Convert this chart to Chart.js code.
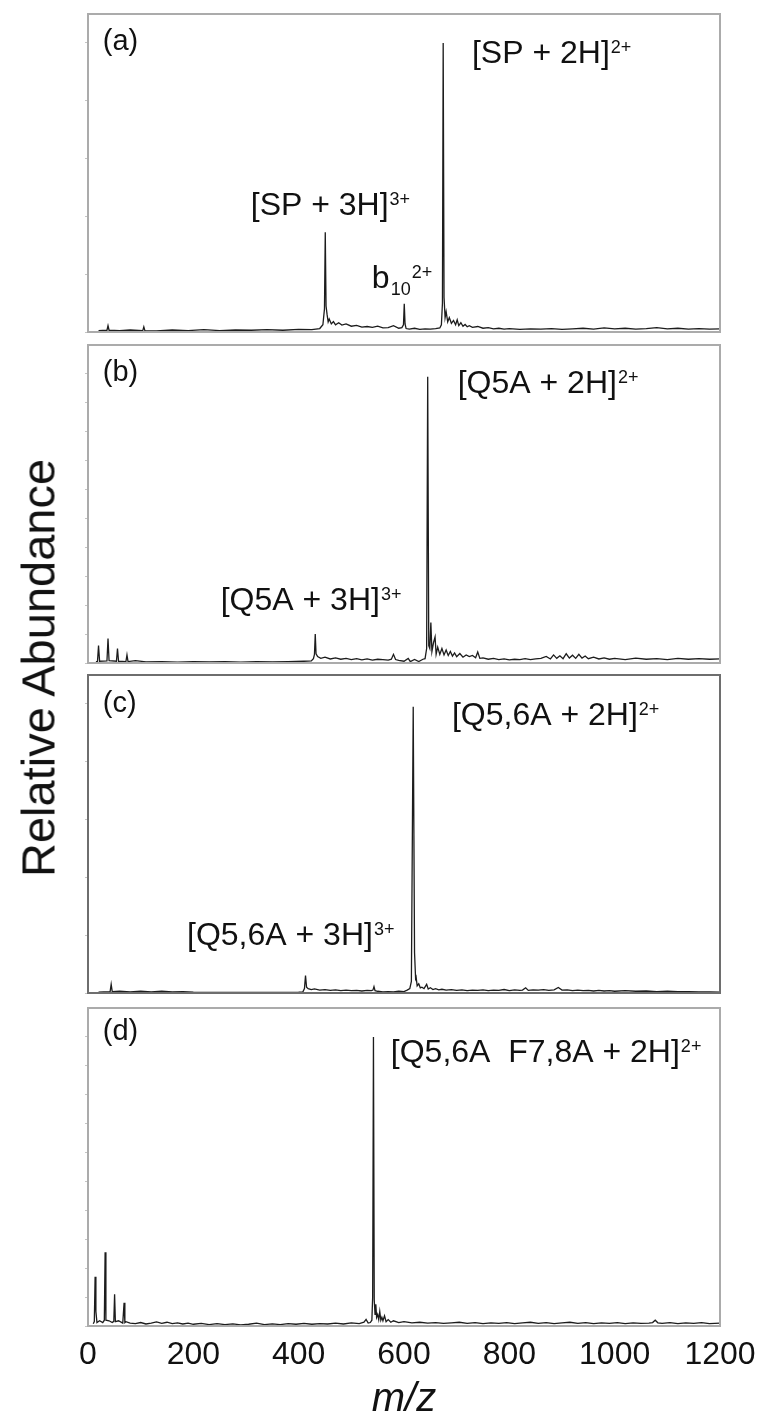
<!DOCTYPE html>
<html>
<head>
<meta charset="utf-8">
<title>ESI mass spectra</title>
<script src="https://cdn.jsdelivr.net/npm/chart.js@4"></script>
<style>
  html, body { margin: 0; padding: 0; background: #fff; }
  #page { position: relative; width: 762px; height: 1420px; overflow: hidden; }
  #page canvas { position: absolute; left: 0; }
  #ytitle {
    position: absolute; left: 38px; top: 668px;
    transform: translate(-50%, -50%) rotate(-90deg);
    font: 47px "Liberation Sans", Arial, sans-serif;
    white-space: nowrap; color: #111;
  }
</style>
</head>
<body>
<div id="page">
  <canvas id="panelA" width="762" height="322" style="top:12px"></canvas>
  <canvas id="panelB" width="762" height="322" style="top:343px"></canvas>
  <canvas id="panelC" width="762" height="322" style="top:673px"></canvas>
  <canvas id="panelD" width="762" height="414" style="top:1006px"></canvas>
  <div id="ytitle">Relative Abundance</div>
</div>
<script>
// axis ticks
const xTicks = [0, 200, 400, 600, 800, 1000, 1200];
const yTicks20 = [0, 20, 40, 60, 80, 100];
const yTicks10 = [0, 10, 20, 30, 40, 50, 60, 70, 80, 90, 100];

// (a) substance P
const mzA = [20, 36, 38, 40, 60, 80, 104, 106, 108, 130, 160, 190, 220, 250, 280, 310, 340, 370, 400, 425,
  440, 446, 449, 450.5, 452, 454, 456, 458, 462, 466, 470, 476, 482, 490, 500, 510, 520, 530, 540, 550,
  560, 570, 580, 590, 596, 599, 600.5, 602, 604, 610, 620, 630, 640, 650, 660, 668, 671, 673, 674.4, 676,
  678, 680, 683, 686, 690, 694, 698, 701, 704, 708, 712, 716, 720, 724, 730, 740, 750, 760, 770, 780,
  790, 800, 820, 840, 860, 880, 900, 920, 940, 960, 980, 1000, 1020, 1040, 1060, 1080, 1100, 1120, 1140, 1160,
  1180, 1200];
const intA = [0.5, 0.6, 2.2, 0.6, 0.5, 0.7, 0.5, 1.8, 0.5, 0.4, 0.7, 0.5, 0.8, 0.5, 0.7, 0.6, 0.8, 0.6, 0.9, 0.8,
  1.2, 2.5, 8, 34.5, 9, 6, 3.5, 4.5, 2.8, 3.6, 2.5, 3.2, 2.4, 2.8, 2.0, 2.3, 1.7, 1.9, 1.6, 2.0,
  1.4, 1.5, 2.2, 1.3, 1.5, 2.5, 9.8, 2.8, 1.2, 1.0, 1.3, 0.9, 1.1, 1.0, 1.2, 1.4, 2.5, 10, 100, 12,
  5, 7, 3.5, 5, 3, 4, 2.5, 4.2, 2.2, 3.2, 2.0, 2.6, 1.8, 2.2, 1.6, 1.9, 1.3, 1.5, 1.1, 1.3,
  1.0, 1.2, 0.9, 1.1, 1.0, 1.2, 0.9, 1.1, 1.3, 1.0, 1.4, 1.1, 1.3, 1.0, 1.2, 1.5, 1.1, 1.3, 1.0, 1.2,
  1.0, 1.1];

// (b) Q5A
const mzB = [15, 18, 20, 22, 36, 38, 40, 54, 56, 58, 72, 74, 76, 90, 110, 140, 170, 200, 230, 260,
  290, 320, 350, 380, 410, 424, 428, 430, 431.5, 433, 436, 442, 450, 460, 470, 480, 490, 500, 510, 520,
  530, 540, 550, 560, 570, 576, 580, 584, 590, 600, 608, 612, 620, 628, 636, 640, 643, 645, 647, 649,
  651, 653, 656, 659, 661, 664, 668, 672, 676, 680, 684, 688, 692, 696, 700, 706, 712, 718, 724, 730,
  736, 740, 744, 750, 760, 770, 780, 790, 800, 810, 820, 830, 840, 850, 860, 870, 878, 884, 890, 896,
  902, 908, 914, 920, 926, 932, 938, 944, 950, 960, 970, 980, 990, 1000, 1020, 1040, 1060, 1080, 1100, 1120,
  1140, 1160, 1180, 1200];
const intB = [0.5, 0.5, 6, 0.6, 0.7, 8.5, 0.8, 0.6, 5, 0.6, 0.5, 2.8, 0.5, 0.8, 0.4, 0.5, 0.3, 0.5, 0.4, 0.5,
  0.3, 0.5, 0.4, 0.5, 0.6, 0.7, 1.5, 3, 10, 3.2, 2.2, 1.6, 2.0, 1.4, 1.8, 1.3, 1.6, 1.2, 1.5, 1.1,
  1.4, 1.0, 1.3, 1.2, 1.0, 1.3, 3.0, 1.2, 0.9, 0.6, 1.6, 0.5, 1.2, 0.5, 1.3, 1.5, 5, 99, 6, 5,
  14, 4, 7, 9, 3, 5.5, 3, 5, 2.8, 4.5, 2.6, 4, 2.4, 3.5, 2.2, 3.3, 2.0, 2.8, 2.2, 2.6,
  1.8, 3.8, 1.6, 1.8, 1.3, 1.6, 1.2, 1.4, 1.1, 1.3, 1.2, 1.5, 1.2, 1.4, 1.6, 2.3, 1.4, 2.8, 1.6, 2.5,
  1.5, 3.2, 1.7, 2.7, 1.6, 3.0, 1.7, 2.4, 1.5, 2.0, 1.4, 1.8, 1.3, 1.6, 1.2, 1.7, 1.3, 1.5, 1.2, 1.6,
  1.3, 1.5, 1.3, 1.4];

// (c) Q5,6A
const mzC = [20, 30, 42, 44, 46, 60, 80, 100, 120, 140, 160, 180, 200, 250, 300, 350, 400, 408, 411, 413,
  415, 418, 424, 430, 440, 450, 460, 470, 480, 490, 500, 510, 520, 530, 538, 541, 543, 545, 550, 560,
  570, 580, 590, 600, 606, 611, 614, 617.5, 620, 622, 623, 625, 628, 631, 634, 638, 643, 646, 650, 655,
  660, 666, 672, 680, 690, 700, 710, 720, 730, 740, 750, 760, 770, 780, 790, 800, 810, 820, 825, 831,
  836, 845, 855, 865, 875, 885, 893, 900, 910, 920, 930, 940, 950, 960, 970, 980, 990, 1000, 1020, 1040,
  1060, 1080, 1100, 1120, 1140, 1160, 1180, 1200];
const intC = [0.3, 0.4, 0.5, 3.0, 0.5, 0.6, 0.4, 0.6, 0.4, 0.6, 0.4, 0.5, 0.3, 0.2, 0.2, 0.2, 0.3, 0.4, 1.5, 6,
  2, 1.5, 1.2, 1.4, 1.0, 1.2, 0.9, 1.1, 0.8, 1.0, 0.8, 0.9, 0.7, 0.9, 0.8, 1.0, 2.2, 0.8, 0.6, 0.4,
  0.5, 0.4, 0.6, 0.5, 1.0, 1.5, 4, 99, 14, 5, 5.5, 2.5, 3.2, 1.8, 2, 1.5, 3, 1.4, 1.8, 1.2,
  1.5, 1.1, 1.3, 1.0, 1.2, 0.9, 1.1, 0.8, 1.0, 0.9, 1.1, 0.8, 1.0, 0.9, 1.2, 0.8, 1.1, 0.9, 1.0, 1.8,
  0.9, 1.1, 1.0, 1.2, 0.9, 1.1, 1.9, 1.0, 1.1, 0.8, 1.0, 0.8, 0.9, 0.7, 0.9, 0.7, 0.8, 0.6, 0.8, 0.6,
  0.7, 0.5, 0.6, 0.5, 0.5, 0.4, 0.4, 0.3];

// (d) Q5,6A F7,8A
const mzD = [10, 12, 13.5, 15, 17, 22, 28, 31, 32.5, 34, 40, 46, 49, 50.5, 52, 58, 66, 68.5, 70, 72,
  80, 90, 100, 110, 120, 130, 140, 150, 160, 170, 180, 190, 200, 215, 230, 245, 260, 275, 290, 305,
  320, 335, 350, 365, 380, 395, 410, 425, 440, 455, 470, 485, 500, 515, 524, 528, 532, 536, 539, 540.5,
  542, 543.5, 545, 546.5, 548, 550, 552, 554, 556, 558, 560, 563, 566, 570, 575, 580, 590, 600, 615, 630,
  645, 660, 675, 690, 705, 720, 735, 750, 765, 780, 795, 810, 825, 840, 855, 870, 885, 900, 915, 930,
  945, 960, 975, 990, 1005, 1020, 1035, 1050, 1065, 1072, 1077, 1082, 1090, 1105, 1120, 1135, 1150, 1165, 1180, 1200];
const intD = [0.8, 1.5, 17, 5, 1.2, 1.8, 1.2, 2, 25.5, 2, 1.8, 1.2, 1.6, 11, 1.5, 1.8, 1.0, 8, 1.2, 1.5,
  1.0, 0.8, 1.2, 0.7, 1.0, 1.4, 0.9, 1.3, 0.8, 1.1, 0.7, 1.0, 0.6, 0.9, 0.5, 0.8, 0.5, 0.7, 0.4, 0.6,
  1.0, 0.5, 0.7, 0.5, 0.8, 0.6, 0.9, 0.6, 0.8, 0.7, 1.0, 0.7, 1.1, 0.8, 1.3, 2.3, 1.0, 1.2, 2, 10,
  100, 9, 4, 7.5, 3, 4, 2.2, 5, 2, 3, 1.8, 3.5, 1.5, 2.2, 1.3, 1.8, 1.2, 1.5, 1.1, 1.3,
  1.0, 1.2, 0.9, 1.1, 1.3, 0.9, 1.2, 0.8, 1.1, 0.9, 1.2, 0.8, 1.1, 1.3, 0.9, 1.2, 0.8, 1.1, 1.3, 0.9,
  1.2, 0.8, 1.1, 0.9, 1.2, 0.8, 1.1, 0.9, 1.0, 1.2, 2.0, 1.1, 0.9, 1.2, 0.8, 1.1, 0.9, 1.2, 0.8, 1.0];

const FONT = '"Liberation Sans", Arial, sans-serif';
Chart.defaults.font.family = FONT;
Chart.defaults.color = '#111';

// grey box round the plot area
const frame = {
  id: 'frame',
  afterDraw(chart, args, opts) {
    const { ctx, chartArea: a } = chart;
    ctx.save();
    ctx.strokeStyle = opts.color;
    ctx.lineWidth = opts.width;
    ctx.strokeRect(a.left, a.top, a.right - a.left, a.bottom - a.top);
    ctx.restore();
  }
};

// ion labels with super/subscripts, anchored in data units
const notes = {
  id: 'notes',
  afterDraw(chart, args, opts) {
    const { ctx, scales } = chart;
    ctx.save();
    ctx.fillStyle = '#111';
    ctx.textAlign = 'left';
    ctx.textBaseline = 'alphabetic';
    (opts.items || []).forEach(item => {
      let x = scales.x.getPixelForValue(item.x);
      const y = scales.y.getPixelForValue(item.y);
      item.parts.forEach(p => {
        const small = p.sup || p.sub;
        ctx.font = (small ? 18 : (item.size || 32)) + 'px ' + FONT;
        const dy = p.sup ? -10 : p.sub ? 7 : 0;
        if (small) x += 1;
        ctx.fillText(p.t, x, y + dy);
        x += ctx.measureText(p.t).width;
      });
    });
    ctx.restore();
  }
};

function spectrum(id, mz, inten, yTicks, cfg) {
  const last = !!cfg.axis;
  const points = mz.map((m, i) => ({ x: m, y: inten[i] }));
  return new Chart(document.getElementById(id), {
    type: 'line',
    data: {
      datasets: [{
        data: points,
        borderColor: '#1c1c1c',
        borderWidth: 1.3,
        pointRadius: 0,
        tension: 0,
        fill: false
      }]
    },
    options: {
      responsive: false,
      animation: false,
      devicePixelRatio: 1,
      layout: { padding: { left: 0, right: 42, top: 2, bottom: last ? 0 : 2 } },
      plugins: {
        legend: { display: false },
        tooltip: { enabled: false },
        frame: { color: cfg.frame, width: 2 },
        notes: { items: cfg.notes }
      },
      scales: {
        x: {
          type: 'linear', min: 0, max: 1200, display: last,
          grid: { display: false },
          border: { display: false },
          ticks: {
            autoSkip: false, maxRotation: 0, padding: 2, color: '#111', font: { size: 32 },
            callback: v => String(v)
          },
          afterBuildTicks: s => { s.ticks = xTicks.map(v => ({ value: v })); },
          afterFit: s => { if (last) s.height = 94; },
          title: {
            display: last, text: 'm/z', color: '#111', padding: 0,
            font: { size: 40, style: 'italic', lineHeight: 1 }
          }
        },
        y: {
          type: 'linear', min: 0, max: 110,
          grid: { drawOnChartArea: false, drawTicks: true, tickLength: 3, color: '#c4c4c4' },
          border: { display: false },
          ticks: { display: false },
          afterBuildTicks: s => { s.ticks = yTicks.map(v => ({ value: v })); },
          afterFit: s => { s.width = 88; }
        }
      }
    },
    plugins: [frame, notes]
  });
}

spectrum('panelA', mzA, intA, yTicks20, {
  frame: '#ababab',
  notes: [
    { x: 28, y: 97.5, size: 29, parts: [{ t: '(a)' }] },
    { x: 729, y: 93, parts: [{ t: '[SP + 2H]' }, { t: '2+', sup: true }] },
    { x: 309, y: 40.5, parts: [{ t: '[SP + 3H]' }, { t: '3+', sup: true }] },
    { x: 539, y: 15.2, parts: [{ t: 'b' }, { t: '10', sub: true }, { t: '2+', sup: true }] }
  ]
});

spectrum('panelB', mzB, intB, yTicks10, {
  frame: '#ababab',
  notes: [
    { x: 28, y: 97.5, size: 29, parts: [{ t: '(b)' }] },
    { x: 702, y: 93.4, parts: [{ t: '[Q5A + 2H]' }, { t: '2+', sup: true }] },
    { x: 252, y: 18.3, parts: [{ t: '[Q5A + 3H]' }, { t: '3+', sup: true }] }
  ]
});

spectrum('panelC', mzC, intC, yTicks20, {
  frame: '#6e6e6e',
  notes: [
    { x: 28, y: 97.2, size: 29, parts: [{ t: '(c)' }] },
    { x: 691, y: 92.7, parts: [{ t: '[Q5,6A + 2H]' }, { t: '2+', sup: true }] },
    { x: 188, y: 16.6, parts: [{ t: '[Q5,6A + 3H]' }, { t: '3+', sup: true }] }
  ]
});

spectrum('panelD', mzD, intD, yTicks10, {
  frame: '#ababab',
  axis: true,
  notes: [
    { x: 28, y: 99, size: 29, parts: [{ t: '(d)' }] },
    { x: 575, y: 91.3, parts: [{ t: '[Q5,6A  F7,8A + 2H]' }, { t: '2+', sup: true }] }
  ]
});
</script>
</body>
</html>
